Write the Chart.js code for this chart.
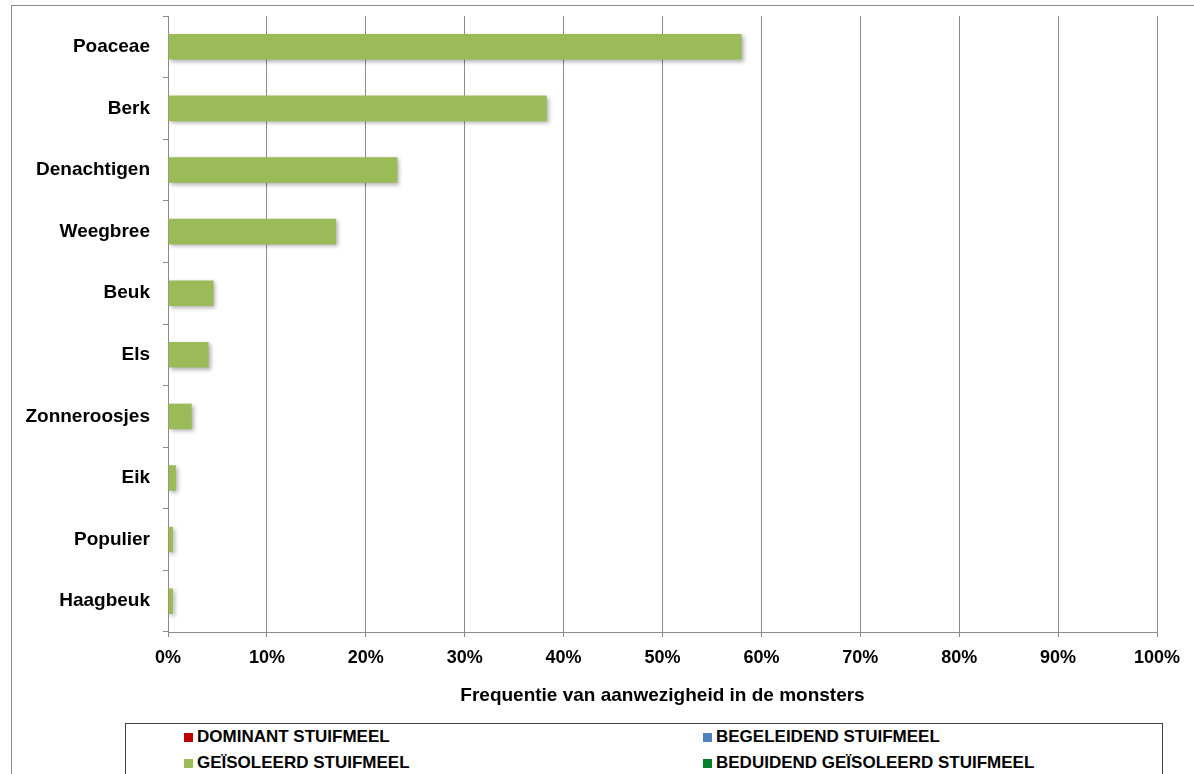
<!DOCTYPE html>
<html>
<head>
<meta charset="utf-8">
<script src="https://cdn.jsdelivr.net/npm/chart.js@4/dist/chart.umd.min.js"></script>
<style>
  html, body { margin: 0; padding: 0; background: #fff; }
  body { width: 1194px; height: 774px; position: relative; overflow: hidden; font-family: "Liberation Sans", Arial, sans-serif; }
  #frame { position: absolute; left: 11px; top: 5px; width: 1200px; height: 800px; border: 1px solid #8a8a8a; }
  #wrap { position: absolute; left: 0; top: 0; width: 1194px; height: 715px; }
  #legend { position: absolute; left: 125px; top: 723px; width: 1036px; height: 60px; border: 1px solid #404040; background: #fff;
            display: grid; grid-template-columns: 519px 517px; grid-auto-rows: 26px; }
  #legend .item { display: flex; align-items: center; padding-left: 58px; font-weight: bold; font-size: 17px; color: #000; white-space: nowrap; }
  #legend .box { width: 9px; height: 9px; margin-right: 4px; flex: none; }
</style>
</head>
<body>
<div id="frame"></div>
<div id="wrap"><canvas id="c"></canvas></div>
<div id="legend"></div>
<script>
// pollen categories (top to bottom)
const categories = ["Poaceae", "Berk", "Denachtigen", "Weegbree", "Beuk", "Els", "Zonneroosjes", "Eik", "Populier", "Haagbeuk"];
// frequency of presence (%), only the isolated-pollen series has values
const dominant = [];
const begeleidend = [];
const geisoleerd = [58, 38.3, 23.2, 17.0, 4.6, 4.1, 2.4, 0.8, 0.5, 0.5];
const beduidend = [];
const seriesNames = ["DOMINANT STUIFMEEL", "BEGELEIDEND STUIFMEEL", "GEÏSOLEERD STUIFMEEL", "BEDUIDEND GEÏSOLEERD STUIFMEEL"];
const seriesColors = ["#c00000", "#4f81bd", "#9bbb59", "#00802b"];
const xTicks = [0, 10, 20, 30, 40, 50, 60, 70, 80, 90, 100];
const xTitle = "Frequentie van aanwezigheid in de monsters";

const seriesData = [dominant, begeleidend, geisoleerd, beduidend];

// zachte schaduw onder de balken
const barShadow = {
  id: "barShadow",
  beforeDatasetsDraw(chart) {
    const ctx = chart.ctx;
    ctx.save();
    ctx.shadowColor = "rgba(0,0,0,0.3)";
    ctx.shadowBlur = 4;
    ctx.shadowOffsetX = 2;
    ctx.shadowOffsetY = 2;
  },
  afterDatasetsDraw(chart) {
    chart.ctx.restore();
  },
};

const chart = new Chart(document.getElementById("c"), {
  type: "bar",
  data: {
    labels: categories,
    datasets: seriesNames.map((name, i) => ({
      label: name,
      data: seriesData[i],
      backgroundColor: seriesColors[i],
      borderWidth: 0,
      grouped: false,
      categoryPercentage: 1,
      barPercentage: 0.415,
    })),
  },
  options: {
    indexAxis: "y",
    responsive: true,
    maintainAspectRatio: false,
    animation: false,
    layout: { padding: { left: 12, top: 16, right: 37, bottom: 0 } },
    plugins: { legend: { display: false }, tooltip: { enabled: false } },
    font: { family: "'Liberation Sans', Arial, sans-serif" },
    scales: {
      x: {
        min: 0,
        max: 100,
        afterBuildTicks: (s) => { s.ticks = xTicks.map((v) => ({ value: v })); },
        ticks: {
          callback: (v) => v + "%",
          color: "#000",
          padding: 10,
          font: { family: "'Liberation Sans', Arial, sans-serif", size: 18, weight: "bold" },
        },
        grid: { color: "#8c8c8c", tickLength: 5 },
        border: { color: "#8c8c8c" },
        title: {
          display: true,
          text: xTitle,
          color: "#000",
          padding: { top: 4, bottom: 8 },
          font: { family: "'Liberation Sans', Arial, sans-serif", size: 19, weight: "bold" },
        },
        afterFit: (s) => { s.height = 83; },
      },
      y: {
        ticks: {
          color: "#000",
          padding: 13,
          font: { family: "'Liberation Sans', Arial, sans-serif", size: 19, weight: "bold" },
        },
        grid: { drawOnChartArea: false, color: "#8c8c8c", tickLength: 5, offset: true },
        border: { color: "#8c8c8c" },
        afterFit: (s) => {
          s.width = 156;
          s.paddingTop = 0;
          s.paddingBottom = 0;
        },
      },
    },
  },
  plugins: [barShadow],
});

// legenda in een kader, twee kolommen
const legend = document.getElementById("legend");
chart.data.datasets.forEach((ds) => {
  const item = document.createElement("div");
  item.className = "item";
  const box = document.createElement("span");
  box.className = "box";
  box.style.background = ds.backgroundColor;
  item.appendChild(box);
  item.appendChild(document.createTextNode(ds.label));
  legend.appendChild(item);
});
</script>
</body>
</html>
